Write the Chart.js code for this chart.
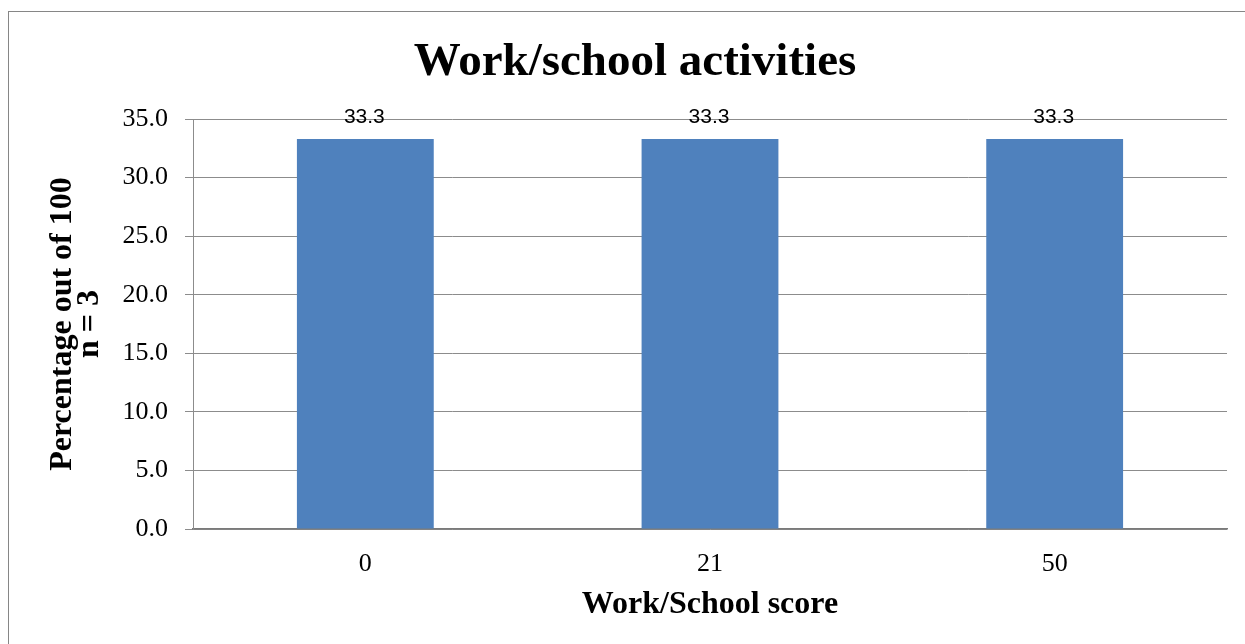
<!DOCTYPE html>
<html>
<head>
<meta charset="utf-8">
<script src="https://cdn.jsdelivr.net/npm/chart.js@4.4.1/dist/chart.umd.min.js"></script>
<style>
    html, body { margin: 0; padding: 0; background: #fff; overflow: hidden; }
    .chart-frame {
        position: absolute;
        left: 8px;
        top: 11px;
        width: 1300px;
        height: 700px;
        border: 1px solid #868686;
    }
    #work_chart { display: block; }
</style>
</head>
<body>
<div class="chart-frame">
    <canvas id="work_chart" width="1252" height="632" style="width:1252px;height:632px"></canvas>
</div>
<script>
const scoreLabels = ['0', '21', '50'];
const percentValues = [33.3, 33.3, 33.3];
const yTicks = { min: 0, max: 35, step: 5 };

const serif = '"Liberation Serif", "Times New Roman", serif';

// value labels above each bar
const barValueLabels = {
    id: 'barValueLabels',
    afterDatasetsDraw(chart) {
        const ctx = chart.ctx;
        const meta = chart.getDatasetMeta(0);
        ctx.save();
        ctx.font = '21px "Liberation Sans", Arial, sans-serif';
        ctx.fillStyle = '#000';
        ctx.textAlign = 'center';
        ctx.textBaseline = 'middle';
        meta.data.forEach((bar, i) => {
            const v = chart.data.datasets[0].data[i];
            ctx.fillText(v.toFixed(1), bar.x - 1, bar.y - 22);
        });
        ctx.restore();
    }
};

const chartCanvas = document.querySelector('#work_chart');

new Chart(chartCanvas, {
    type: 'bar',
    data: {
        labels: scoreLabels,
        datasets: [{
            label: 'Percentage',
            data: percentValues,
            backgroundColor: '#4F81BD',
            borderWidth: 0,
            categoryPercentage: 1,
            barPercentage: 0.397
        }]
    },
    options: {
        responsive: false,
        devicePixelRatio: 1,
        animation: false,
        layout: {
            padding: { left: 34, right: 34, top: 0, bottom: 0 }
        },
        plugins: {
            legend: { display: false },
            tooltip: { enabled: false },
            title: {
                display: true,
                text: 'Work/school activities',
                color: '#000',
                font: { family: serif, size: 47, weight: 'bold', lineHeight: 1.2 },
                padding: { top: 23, bottom: 27.6 }
            }
        },
        scales: {
            x: {
                grid: { display: true, drawOnChartArea: false, drawTicks: false },
                border: { color: '#7a7a7a', width: 1.5 },
                ticks: {
                    color: '#000',
                    padding: 20,
                    font: { family: serif, size: 26 }
                },
                title: {
                    display: true,
                    text: 'Work/School score',
                    color: '#000',
                    font: { family: serif, size: 32, weight: 'bold', lineHeight: 1.2 },
                    padding: { top: 0, bottom: 20 }
                },
                afterFit(scale) {
                    scale.height = 115;
                }
            },
            y: {
                min: yTicks.min,
                max: yTicks.max,
                grid: { color: '#8c8c8c', lineWidth: 1, tickLength: 8 },
                border: { color: '#8c8c8c', width: 1 },
                ticks: {
                    stepSize: yTicks.step,
                    color: '#000',
                    padding: 17,
                    font: { family: serif, size: 26 },
                    callback: (v) => Number(v).toFixed(1)
                },
                title: {
                    display: true,
                    text: ['Percentage out of 100', 'n = 3'],
                    color: '#000',
                    font: { family: serif, size: 32, weight: 'bold', lineHeight: 0.85 },
                    padding: { top: 6, bottom: 0 }
                },
                afterFit(scale) {
                    scale.width = 150;
                }
            }
        }
    },
    plugins: [barValueLabels]
});
</script>
</body>
</html>
